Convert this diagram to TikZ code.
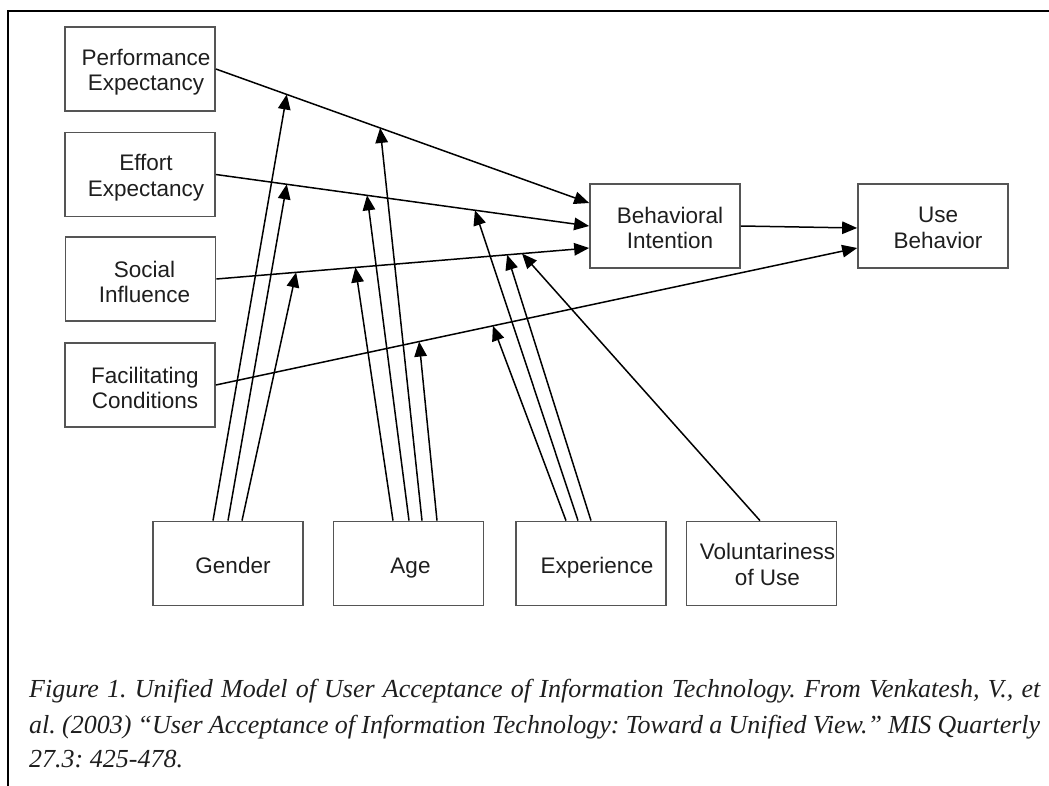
\documentclass[tikz,border=0pt]{standalone}
\usepackage{fontspec}
\usetikzlibrary{arrows.meta,calc}
\newfontfamily\boxfont{Liberation Sans}
\newfontfamily\capfont{Liberation Serif}
\definecolor{boxgray}{HTML}{555555}
\definecolor{labelgray}{HTML}{1E1E1E}
\begin{document}
\begin{tikzpicture}[x=1pt,y=-1pt,
  box/.style={draw=boxgray, line width=1.7pt, minimum width=150pt,
    minimum height=84pt, inner sep=0pt},
  lbl/.style={font=\boxfont\fontsize{22.5}{25.5}\selectfont, align=center,
    text=labelgray, inner sep=0pt},
  link/.style={draw=black, line width=1.5pt,
    -{Triangle[length=15pt,width=12.5pt]}},
  captext/.style={font=\capfont\itshape\frenchspacing\fontsize{26}{35}\selectfont,
    text=labelgray, inner sep=0pt, anchor=base west}]
\useasboundingbox (0,0) rectangle (1049,786);

% frame
\draw[line width=2.4pt] (8,786) -- (8,11) -- (1049,11);

% determinants
\node[box] (pe) at (140,69) {};
\node[lbl] (pe-t) at ([xshift=6pt,yshift=-3pt]pe.center) {Performance\\Expectancy};
\node[box] (ee) at (140,174.5) {};
\node[lbl] (ee-t) at ([xshift=6pt,yshift=-3pt]ee.center) {Effort\\Expectancy};
\node[box] (si) at (140.5,279) {};
\node[lbl] (si-t) at ([xshift=4pt,yshift=-3pt]si.center) {Social\\Influence};
\node[box] (fc) at (140,385) {};
\node[lbl] (fc-t) at ([xshift=5pt,yshift=-3pt]fc.center) {Facilitating\\Conditions};

% outcomes
\node[box] (bi) at (665,226) {};
\node[lbl] (bi-t) at ([xshift=5pt,yshift=-2pt]bi.center) {Behavioral\\Intention};
\node[box] (ub) at (933,226) {};
\node[lbl] (ub-t) at ([xshift=5pt,yshift=-2pt]ub.center) {Use\\Behavior};

% moderators
\node[box] (gen) at (228,563.5) {};
\node[lbl] (gen-t) at ([xshift=5pt,yshift=-2pt]gen.center) {Gender};
\node[box] (age) at (408.5,563.5) {};
\node[lbl] (age-t) at ([xshift=2pt,yshift=-5pt]age.center) {Age};
\node[box] (exp) at (591,563.5) {};
\node[lbl] (exp-t) at ([xshift=6pt,yshift=-4pt]exp.center) {Experience};
\node[box] (vol) at (761.5,563.5) {};
\node[lbl] (vol-t) at ([xshift=6pt,yshift=-1pt]vol.center) {Voluntariness\\of Use};

% main paths
\draw[link] (pe.east) -- coordinate[pos=0.19] (pe-g) coordinate[pos=0.44] (pe-a)
  ([yshift=23pt]bi.west);
\draw[link] (ee.east) -- coordinate[pos=0.19] (ee-g) coordinate[pos=0.405] (ee-a)
  coordinate[pos=0.694] (ee-x) (bi.west);
\draw[link] (si.east) -- coordinate[pos=0.214] (si-g) coordinate[pos=0.373] (si-a)
  coordinate[pos=0.78] (si-x) coordinate[pos=0.82] (si-v) ([yshift=-22pt]bi.west);
\draw[link] (fc.east) -- coordinate[pos=0.317] (fc-a) coordinate[pos=0.432] (fc-x)
  ([yshift=-22pt]ub.west);
\draw[link] (bi.east) -- ([yshift=-2pt]ub.west);

% moderating effects
\draw[link] ([xshift=-15pt]gen.north) -- (pe-g);
\draw[link] (gen.north) -- (ee-g);
\draw[link] ([xshift=14pt]gen.north) -- (si-g);
\draw[link] ([xshift=-15.5pt]age.north) -- (si-a);
\draw[link] ([xshift=0.5pt]age.north) -- (ee-a);
\draw[link] ([xshift=13.5pt]age.north) -- (pe-a);
\draw[link] ([xshift=28.5pt]age.north) -- (fc-a);
\draw[link] ([xshift=-25pt]exp.north) -- (fc-x);
\draw[link] ([xshift=-13pt]exp.north) -- (ee-x);
\draw[link] (exp.north) -- (si-x);
\draw[link] ([xshift=-1.5pt]vol.north) -- (si-v);

% caption
\node[captext] (cap1) at (29,697) {\makebox[1011pt][s]{Figure 1. Unified Model of User Acceptance of Information Technology. From Venkatesh, V., et}};
\node[captext] (cap2) at (29,733) {\makebox[1011pt][s]{al. (2003) “User Acceptance of Information Technology: Toward a Unified View.” MIS Quarterly}};
\node[captext] (cap3) at (29,767) {27.3: 425-478.};
\end{tikzpicture}
\end{document}
